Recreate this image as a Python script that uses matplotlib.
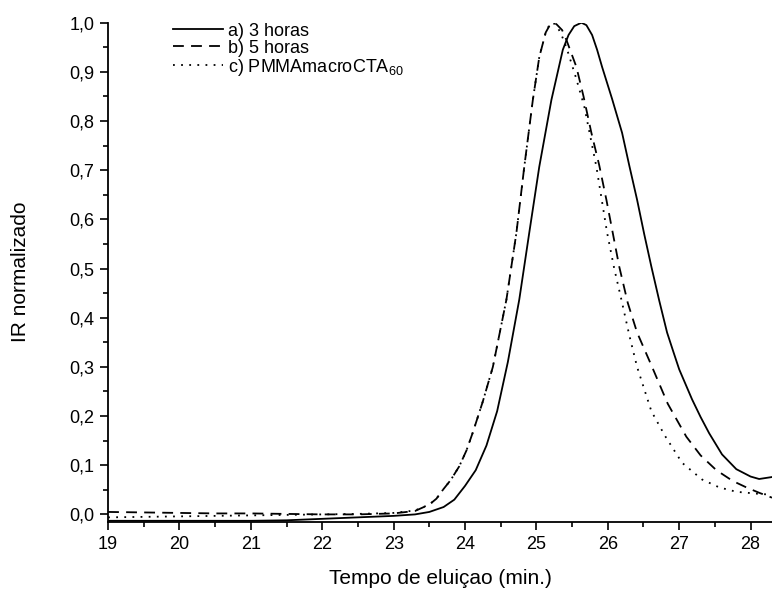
import matplotlib

matplotlib.use("Agg")
import matplotlib.pyplot as plt  # noqa: E402
from matplotlib.ticker import FuncFormatter, MultipleLocator  # noqa: E402

plt.rcParams["font.family"] = ["Liberation Sans", "DejaVu Sans"]
plt.rcParams["mathtext.default"] = "regular"

# SEC traces, normalised IR signal vs elution time (min)
t_3h = [19.0, 20.0, 21.0, 21.5, 22.0, 22.5, 23.0, 23.3, 23.5, 23.7, 23.85,
        24.0, 24.15, 24.3, 24.45, 24.6, 24.76, 24.9, 25.04, 25.21, 25.37,
        25.45, 25.53, 25.63, 25.7, 25.78, 25.85, 25.92, 26.06, 26.2, 26.3,
        26.41, 26.51, 26.61, 26.72, 26.83, 26.92, 27.0, 27.18, 27.3, 27.42,
        27.6, 27.8, 28.0, 28.12, 28.3]
ir_3h = [-0.013, -0.013, -0.013, -0.012, -0.009, -0.006, -0.003, 0.0, 0.005,
         0.015, 0.03, 0.058, 0.09, 0.14, 0.21, 0.31, 0.437, 0.573, 0.707,
         0.843, 0.945, 0.975, 0.993, 1.0, 0.995, 0.975, 0.945, 0.91, 0.845,
         0.776, 0.71, 0.64, 0.57, 0.504, 0.435, 0.37, 0.33, 0.295, 0.234,
         0.198, 0.165, 0.122, 0.092, 0.077, 0.072, 0.076]

t_5h = [19.0, 19.5, 20.0, 20.5, 21.0, 21.5, 22.0, 22.5, 23.0, 23.3, 23.5,
        23.6, 23.69, 23.8, 23.92, 24.02, 24.11, 24.25, 24.39, 24.58, 24.72,
        24.83, 24.95, 25.04, 25.13, 25.18, 25.23, 25.28, 25.36, 25.42, 25.56,
        25.66, 25.77, 25.88, 25.98, 26.16, 26.28, 26.41, 26.62, 26.84, 27.1,
        27.3, 27.52, 27.75, 27.94, 28.12, 28.3]
ir_5h = [0.005, 0.004, 0.003, 0.002, 0.002, 0.001, 0.0, 0.0, 0.002, 0.007,
         0.02, 0.032, 0.05, 0.07, 0.098, 0.13, 0.167, 0.23, 0.30, 0.437,
         0.573, 0.707, 0.843, 0.93, 0.98, 0.993, 1.0, 0.997, 0.985, 0.965,
         0.91, 0.85, 0.776, 0.71, 0.64, 0.504, 0.43, 0.37, 0.30, 0.225, 0.158,
         0.12, 0.09, 0.068, 0.055, 0.044, 0.034]

t_macro = [19.0, 19.5, 20.0, 20.5, 21.0, 21.5, 22.0, 22.5, 23.0, 23.3, 23.5,
           23.6, 23.69, 23.8, 23.92, 24.02, 24.11, 24.25, 24.39, 24.58, 24.72,
           24.83, 24.95, 25.04, 25.13, 25.18, 25.22, 25.26, 25.3, 25.36, 25.42,
           25.55, 25.67, 25.84, 25.99, 26.09, 26.19, 26.3, 26.41, 26.61, 26.8,
           27.04, 27.32, 27.56, 27.8, 28.1, 28.3]
ir_macro = [-0.006, -0.005, -0.004, -0.003, -0.002, -0.001, 0.0, 0.001, 0.003,
            0.008, 0.02, 0.032, 0.05, 0.07, 0.098, 0.13, 0.167, 0.23, 0.30,
            0.437, 0.573, 0.707, 0.843, 0.93, 0.98, 0.995, 1.0, 0.997, 0.99,
            0.972, 0.95, 0.89, 0.83, 0.707, 0.573, 0.5, 0.437, 0.365, 0.30,
            0.21, 0.16, 0.105, 0.071, 0.055, 0.046, 0.042, 0.04]

labels = ["a) 3 horas", "b) 5 horas", "c) PMMAmacroCTA$_{60}$"]

fig = plt.figure(figsize=(7.72, 5.97), dpi=100)
ax = fig.add_axes([0.14, 0.126, 0.86, 0.836])

ax.plot(t_3h, ir_3h, color="black", lw=1.3, ls="-", label=labels[0])
ax.plot(t_5h, ir_5h, color="black", lw=1.3, ls=(0, (6, 4)), label=labels[1])
ax.plot(t_macro, ir_macro, color="black", lw=1.3, ls=(0, (1, 3.5)), label=labels[2])

ax.set_xlim(19, 28.3)
ax.set_ylim(-0.015, 1.0)

ax.spines["top"].set_visible(False)
ax.spines["right"].set_visible(False)
for s in ("left", "bottom"):
    ax.spines[s].set_linewidth(1.3)

ax.xaxis.set_major_locator(MultipleLocator(1))
ax.xaxis.set_minor_locator(MultipleLocator(0.5))
ax.yaxis.set_major_locator(MultipleLocator(0.1))
ax.yaxis.set_minor_locator(MultipleLocator(0.05))
ax.yaxis.set_major_formatter(FuncFormatter(lambda v, _: f"{v:.1f}".replace(".", ",")))
ax.tick_params(which="major", direction="out", length=6, width=1.2, labelsize=13, pad=4)
ax.tick_params(which="minor", direction="out", length=3.5, width=1.2)

ax.set_xlabel("Tempo de eluiçao (min.)", fontsize=15, labelpad=12)
ax.set_ylabel("IR normalizado", fontsize=15, labelpad=28)

ax.legend(loc="upper left", bbox_to_anchor=(0.224, 0.962), bbox_transform=fig.transFigure,
          frameon=False, fontsize=13, handlelength=2.8, handletextpad=0.25,
          labelspacing=0.0, borderpad=0, borderaxespad=0)

fig.savefig("out.png", dpi=100)
